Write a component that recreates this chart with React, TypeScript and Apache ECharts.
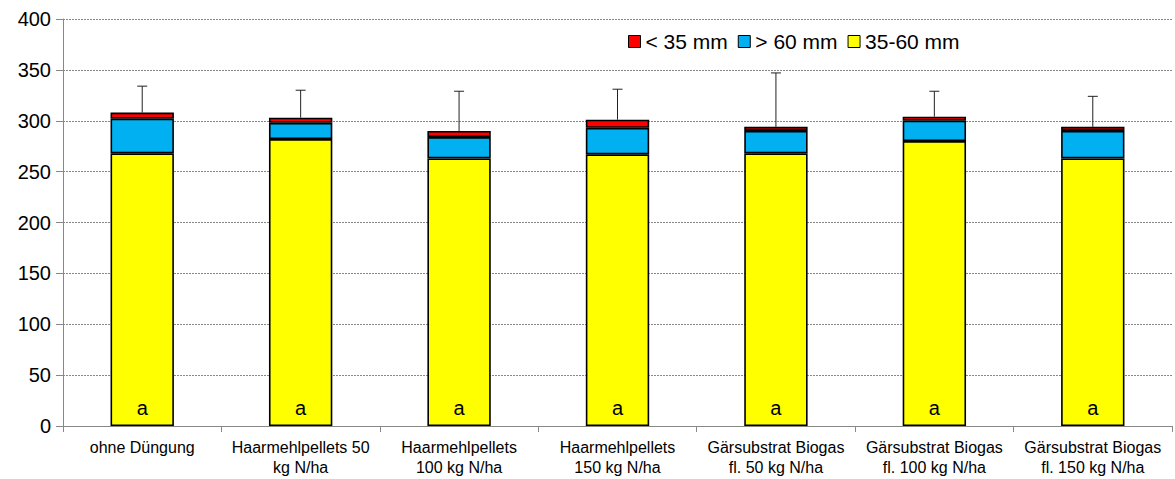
import React, { useEffect, useRef } from "react";
import * as echarts from "echarts";

const categories = [
  "ohne Düngung",
  "Haarmehlpellets 50\nkg N/ha",
  "Haarmehlpellets\n100 kg N/ha",
  "Haarmehlpellets\n150 kg N/ha",
  "Gärsubstrat Biogas\nfl. 50 kg N/ha",
  "Gärsubstrat Biogas\nfl. 100 kg N/ha",
  "Gärsubstrat Biogas\nfl. 150 kg N/ha",
];
const mid = [268, 282, 263, 267, 268, 280, 263]; // 35-60 mm
const large = [34, 16, 21, 26, 22, 20, 27]; // > 60 mm
const small = [6, 5, 6, 8, 4, 4, 4]; // < 35 mm
const errorTop = [334, 330, 329, 331, 347, 329, 324];
const letters = ["a", "a", "a", "a", "a", "a", "a"];

export default function App() {
  const ref = useRef<HTMLDivElement>(null);
  useEffect(() => {
    if (!ref.current) return;
    const chart = echarts.init(ref.current, null, { renderer: "svg" });
    const totals = mid.map((v, i) => v + large[i] + small[i]);
    const font = "Liberation Sans, Arial, sans-serif";
    const barStyle = (color: string) => ({ color, borderColor: "#000", borderWidth: 1.6 });
    chart.setOption({
      animation: false,
      textStyle: { fontFamily: font },
      grid: { left: 63, right: 3, top: 19, bottom: 53 },
      legend: {
        data: ["< 35 mm", "> 60 mm", "35-60 mm"],
        left: 623,
        top: 26,
        itemWidth: 12,
        itemHeight: 12,
        itemGap: 10,
        icon: "rect",
        itemStyle: { borderColor: "#000", borderWidth: 1 },
        textStyle: { fontSize: 21, color: "#000", fontFamily: font },
      },
      xAxis: {
        type: "category",
        data: categories,
        axisLine: { lineStyle: { color: "#888", width: 1 } },
        axisTick: { show: true, length: 6, lineStyle: { color: "#888" } },
        axisLabel: { fontSize: 16, color: "#000", lineHeight: 20, margin: 11, interval: 0 },
      },
      yAxis: {
        type: "value",
        min: 0,
        max: 400,
        interval: 50,
        axisLine: { show: true, lineStyle: { color: "#888", width: 1 } },
        axisTick: { show: true, length: 7, lineStyle: { color: "#888" } },
        axisLabel: { fontSize: 20, color: "#000", margin: 12 },
        splitLine: { lineStyle: { color: "#888", type: [2, 1], width: 1 } },
      },
      series: [
        {
          name: "35-60 mm",
          type: "bar",
          stack: "s",
          barWidth: "40%",
          data: mid,
          itemStyle: barStyle("#FFFF00"),
          label: {
            show: true,
            position: "insideBottom",
            distance: 8,
            fontSize: 20,
            color: "#000",
            formatter: (p: any) => letters[p.dataIndex],
          },
        },
        { name: "> 60 mm", type: "bar", stack: "s", data: large, itemStyle: barStyle("#00B0F0") },
        { name: "< 35 mm", type: "bar", stack: "s", data: small, itemStyle: barStyle("#FF0000") },
        {
          type: "custom",
          name: "err",
          z: 10,
          data: totals.map((t, i) => [i, t, errorTop[i]]),
          renderItem: (params: any, api: any) => {
            const x = api.value(0);
            const lo = api.coord([x, api.value(1)]);
            const hi = api.coord([x, api.value(2)]);
            const hw = 5;
            const st = { stroke: "#222", lineWidth: 1 };
            return {
              type: "group",
              children: [
                { type: "line", shape: { x1: lo[0], y1: lo[1], x2: hi[0], y2: hi[1] }, style: st },
                { type: "line", shape: { x1: hi[0] - hw, y1: hi[1], x2: hi[0] + hw, y2: hi[1] }, style: st },
              ],
            };
          },
        },
      ],
    });
    return () => chart.dispose();
  }, []);
  return <div ref={ref} style={{ width: 1175, height: 479, position: "absolute", left: 0, top: 0 }} />;
}
